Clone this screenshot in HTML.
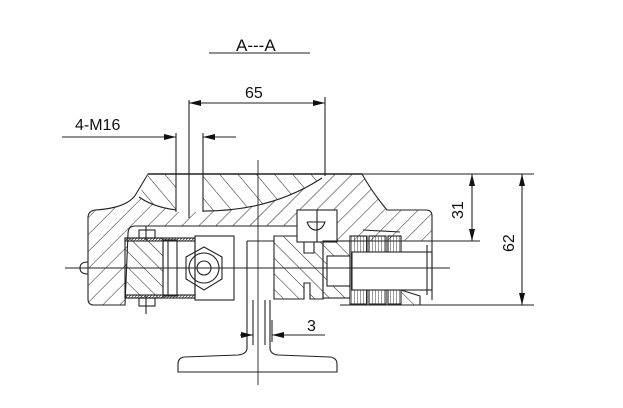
<!DOCTYPE html>
<html><head><meta charset="utf-8"><style>
html,body{margin:0;padding:0;background:#fff}
svg{display:block}
text{font-family:"Liberation Sans",sans-serif;fill:#111}
</style></head><body>
<svg width="623" height="408" viewBox="0 0 623 408" xmlns="http://www.w3.org/2000/svg">
<defs>
<pattern id="h1" patternUnits="userSpaceOnUse" width="12" height="12" patternTransform="rotate(45)">
<line x1="0" y1="0" x2="0" y2="12" stroke="#222" stroke-width="1"/></pattern>
<pattern id="h2" patternUnits="userSpaceOnUse" width="11" height="11" patternTransform="rotate(-45)">
<line x1="0" y1="0" x2="0" y2="11" stroke="#222" stroke-width="1"/></pattern>
<pattern id="h3" patternUnits="userSpaceOnUse" width="14" height="14" patternTransform="rotate(-40)">
<line x1="0" y1="0" x2="0" y2="14" stroke="#222" stroke-width="1"/></pattern>
<pattern id="v" patternUnits="userSpaceOnUse" width="3" height="10">
<line x1="0" y1="0" x2="0" y2="10" stroke="#222" stroke-width="0.9"/></pattern>
<pattern id="d" patternUnits="userSpaceOnUse" width="3" height="3">
<line x1="0" y1="3" x2="3" y2="0" stroke="#444" stroke-width="0.8"/></pattern>
<marker id="a" markerWidth="12" markerHeight="6" refX="12" refY="3" orient="auto-start-reverse" markerUnits="userSpaceOnUse">
<path d="M0,0 L12,3 L0,6 Z" fill="#111"/></marker>
</defs>
<g stroke="#222" stroke-width="1.1" fill="none">
<line x1="209" y1="53" x2="310" y2="53"/>
<!-- body -->
<path d="M148,174 L362,174 Q372,192 387,210 L426,210 Q432,210 432,216 L432,241 L300,241 L300,226 L135,226 Q128,226 128,234 L125,305 L94,305 Q88,305 88,299 L88,218 Q88,211 95,210 Q128,208 136,194 Z" fill="url(#h1)"/>
<!-- upper saddle region -->
<path d="M148,174 L322,174 L322,178 Q270,212 200,211 Q160,212 139,197 Q143,185 148,174 Z" fill="#fff" stroke="none"/>
<path d="M148,174 L322,174 L322,178 Q270,212 200,211 Q160,212 139,197 Q143,185 148,174 Z" fill="url(#h3)" stroke="none"/>
<path d="M139,197 Q160,212 200,211 Q270,212 322,178" />
<rect x="176" y="174" width="27" height="38" fill="#fff" stroke="none"/>
<line x1="176" y1="133" x2="176" y2="212"/><line x1="203" y1="133" x2="203" y2="212"/>
<line x1="189" y1="100" x2="189" y2="218"/>
<!-- left clamp block -->
<rect x="125" y="238" width="38" height="60" fill="url(#h2)"/>
<path d="M125,238 L195,238 L195,298 L125,298" />
<rect x="125" y="238" width="70" height="3" fill="url(#d)"/>
<rect x="125" y="295" width="70" height="3" fill="url(#d)"/>
<rect x="163" y="240" width="14" height="56"/>
<path d="M168,240 L168,296"/>
<rect x="195" y="236" width="39" height="64"/>
<polygon points="204,247 222,257 222,279 204,290 186,279 186,257"/>
<circle cx="204" cy="268" r="15"/><circle cx="204" cy="268" r="7"/>
<rect x="139" y="230" width="16" height="8"/><rect x="139" y="298" width="16" height="8"/>
<line x1="146" y1="226" x2="146" y2="240"/><line x1="146" y1="296" x2="146" y2="314"/>
<path d="M88,262 Q80,262 80,268 Q80,274 88,274"/>
<!-- rail -->
<path d="M247,241 L247,348 Q247,354 238,355 L184,357 Q178,358 178,364 L178,372 L337,372 L337,364 Q337,358 330,357 L278,355 Q270,354 270,348 L270,300"/>
<line x1="247" y1="241" x2="274" y2="241"/>
<line x1="253" y1="300" x2="253" y2="345"/><line x1="265" y1="300" x2="265" y2="345"/>
<!-- centre block -->
<path d="M274,236 L304,236 L304,253 L314,253 L314,236 L323,236 L323,299 L310,299 L310,283 L304,283 L304,299 L274,299 Z" fill="url(#h2)"/>
<!-- cap screw -->
<rect x="297" y="210" width="40" height="32" fill="#fff"/>
<line x1="317" y1="210" x2="317" y2="242"/>
<path d="M307,222 L325,222 Q322,230 316,230 Q310,230 307,222"/>
<!-- bushing -->
<rect x="323" y="241" width="27" height="57" fill="url(#h2)"/>
<rect x="327" y="256" width="23" height="30" fill="#fff"/>
<!-- knurled nuts -->
<rect x="350" y="236" width="17" height="68" fill="url(#v)"/>
<rect x="369" y="236" width="17" height="68" fill="url(#v)"/>
<rect x="388" y="236" width="13" height="68" fill="url(#v)"/>
<path d="M363,230 L400,232"/>
<rect x="352" y="252" width="80" height="38" fill="#fff"/>
<path d="M401,290 L420,296 L420,305 L401,305" fill="url(#h2)"/>
<line x1="432" y1="241" x2="432" y2="300"/>
<path d="M340,305 L420,305"/>
<line x1="427" y1="245" x2="427" y2="295"/>
<!-- centre lines -->
<line x1="65" y1="268" x2="450" y2="268" stroke-width="0.9"/>
<line x1="258" y1="160" x2="258" y2="385" stroke-width="0.9"/>
<!-- dims -->
<line x1="189" y1="103" x2="325" y2="103" marker-start="url(#a)" marker-end="url(#a)" stroke-width="1" />
<line x1="325" y1="97" x2="325" y2="176"/>
<line x1="62" y1="137" x2="176" y2="137" marker-end="url(#a)"/>
<line x1="236" y1="137" x2="203" y2="137" marker-end="url(#a)"/>
<line x1="362" y1="174" x2="534" y2="174"/>
<line x1="400" y1="305" x2="534" y2="305"/>
<line x1="432" y1="241" x2="480" y2="241"/>
<line x1="472" y1="174" x2="472" y2="241" marker-start="url(#a)" marker-end="url(#a)"/>
<line x1="522" y1="174" x2="522" y2="305" marker-start="url(#a)" marker-end="url(#a)"/>
<line x1="240" y1="335" x2="253" y2="335" marker-end="url(#a)"/>
<line x1="325" y1="335" x2="272" y2="335" marker-end="url(#a)"/>
<line x1="272" y1="320" x2="272" y2="342"/>
</g>
<line x1="148" y1="174" x2="362" y2="174" stroke="#222" stroke-width="1.4"/>
<text x="236" y="51" font-size="17">A---A</text>
<text x="245" y="98" font-size="16">65</text>
<text x="75" y="130" font-size="16">4-M16</text>
<text x="307" y="331" font-size="16">3</text>
<text transform="translate(463,219) rotate(-90)" font-size="16">31</text>
<text transform="translate(514,252) rotate(-90)" font-size="16">62</text>
</svg>
</body></html>
